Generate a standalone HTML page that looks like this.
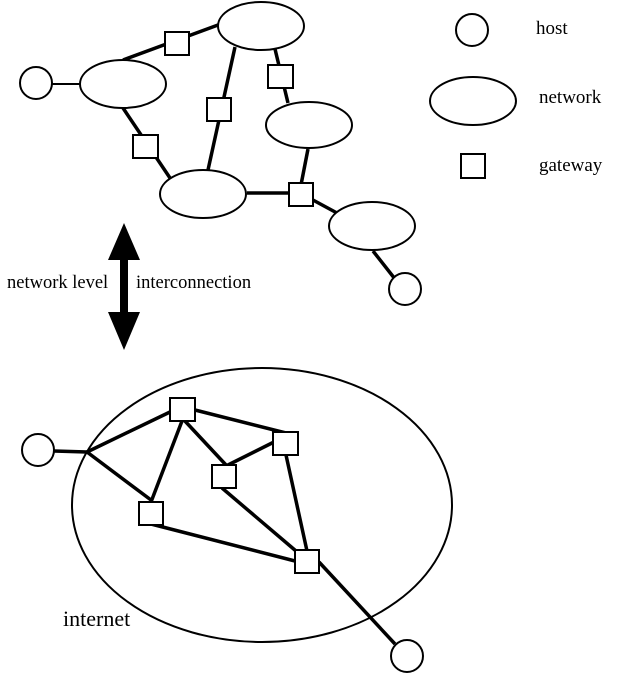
<!DOCTYPE html>
<html><head><meta charset="utf-8"><style>
html,body{margin:0;padding:0;background:#fff;}
svg{display:block;}
text{font-family:"Liberation Serif",serif;fill:#000;}
</style></head><body>
<svg width="644" height="687" viewBox="0 0 644 687" xmlns="http://www.w3.org/2000/svg">
<g stroke="#000" fill="none" stroke-width="3.5">
<line x1="52" y1="84" x2="80" y2="84" stroke-width="2"/>
<line x1="123" y1="60" x2="218" y2="25"/>
<line x1="235" y1="47" x2="208" y2="170"/>
<line x1="275" y1="49" x2="288" y2="103"/>
<line x1="123" y1="108" x2="170" y2="178"/>
<line x1="247" y1="193" x2="300" y2="193"/>
<line x1="308" y1="149" x2="300" y2="190"/>
<line x1="300" y1="193" x2="337" y2="213"/>
<line x1="373" y1="251" x2="395" y2="279"/>
</g>
<g stroke="#000" fill="#fff" stroke-width="2">
<circle cx="36" cy="83" r="16"/>
<circle cx="405" cy="289" r="16"/>
<ellipse cx="123" cy="84" rx="43" ry="24"/>
<ellipse cx="261" cy="26" rx="43" ry="24"/>
<ellipse cx="309" cy="125" rx="43" ry="23"/>
<ellipse cx="203" cy="194" rx="43" ry="24"/>
<ellipse cx="372" cy="226" rx="43" ry="24"/>
<rect x="165" y="32" width="24" height="23"/>
<rect x="268" y="65" width="25" height="23"/>
<rect x="207" y="98" width="24" height="23"/>
<rect x="133" y="135" width="25" height="23"/>
<rect x="289" y="183" width="24" height="23"/>
<circle cx="472" cy="30" r="16"/>
<ellipse cx="473" cy="101" rx="43" ry="24"/>
<rect x="461" y="154" width="24" height="24"/>
</g>
<text x="536" y="34" font-size="19">host</text>
<text x="539" y="103" font-size="19">network</text>
<text x="539" y="171" font-size="19">gateway</text>
<polygon points="124,223 140,260 128,260 128,312 140,312 124,350 108,312 120,312 120,260 108,260" fill="#000"/>
<text x="7" y="288" font-size="18.5">network level</text>
<text x="136" y="288" font-size="18.5">interconnection</text>
<ellipse cx="262" cy="505" rx="190" ry="137" stroke="#000" fill="none" stroke-width="2"/>
<g stroke="#000" fill="none" stroke-width="3.5">
<line x1="54" y1="451" x2="87" y2="452"/>
<line x1="87" y1="452" x2="170" y2="412"/>
<line x1="87" y1="452" x2="151" y2="500"/>
<line x1="182" y1="421" x2="151" y2="502"/>
<line x1="195" y1="410" x2="286" y2="433"/>
<line x1="184" y1="420" x2="226" y2="465"/>
<line x1="226" y1="466" x2="274" y2="442"/>
<line x1="222" y1="488" x2="296" y2="551"/>
<line x1="151" y1="524" x2="295" y2="561"/>
<line x1="286" y1="455" x2="307" y2="551"/>
<line x1="319" y1="562" x2="395" y2="644"/>
</g>
<g stroke="#000" fill="#fff" stroke-width="2">
<circle cx="38" cy="450" r="16"/>
<circle cx="407" cy="656" r="16"/>
<rect x="170" y="398" width="25" height="23"/>
<rect x="273" y="432" width="25" height="23"/>
<rect x="212" y="465" width="24" height="23"/>
<rect x="139" y="502" width="24" height="23"/>
<rect x="295" y="550" width="24" height="23"/>
</g>
<text x="63" y="626" font-size="22">internet</text>
</svg>
</body></html>
